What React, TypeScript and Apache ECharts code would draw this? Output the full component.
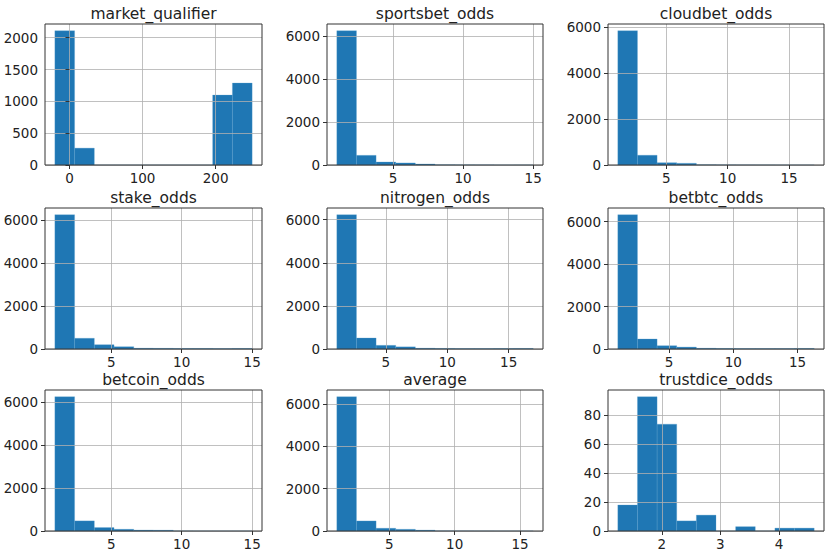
import React, { useEffect, useRef } from "react";
import * as echarts from "echarts";

// Panel titles (pandas DataFrame.hist, 10 bins each)
const titles = [
  "market_qualifier", "sportsbet_odds", "cloudbet_odds",
  "stake_odds", "nitrogen_odds", "betbtc_odds",
  "betcoin_odds", "average", "trustdice_odds",
];

// Data range (min, max) of each column -> histogram spans this range in 10 equal bins
const binMin = [-20, 1.0, 1.05, 1.0, 1.0, 1.0, 1.0, 1.0, 1.25];
const binMax = [250, 15.0, 17.05, 15.0, 17.0, 16.3, 15.0, 16.0, 4.6];

// Bin counts
const marketQualifier = [2110, 265, 0, 0, 0, 0, 0, 0, 1098, 1287];
const sportsbetOdds = [6250, 450, 140, 95, 45, 10, 6, 4, 2, 2];
const cloudbetOdds = [5850, 425, 100, 73, 10, 5, 3, 2, 1, 1];
const stakeOdds = [6260, 500, 200, 110, 35, 30, 25, 25, 20, 25];
const nitrogenOdds = [6230, 510, 170, 100, 35, 25, 20, 20, 20, 25];
const betbtcOdds = [6320, 470, 155, 90, 35, 25, 20, 20, 20, 25];
const betcoinOdds = [6240, 470, 160, 80, 40, 35, 2, 1, 1, 1];
const averageOdds = [6350, 475, 130, 80, 40, 5, 3, 2, 1, 1];
const trustdiceOdds = [18, 93, 74, 7, 11, 0, 3, 0, 2, 2];

const counts = [
  marketQualifier, sportsbetOdds, cloudbetOdds,
  stakeOdds, nitrogenOdds, betbtcOdds,
  betcoinOdds, averageOdds, trustdiceOdds,
];

// Tick labels
const xTicks = [
  [0, 100, 200], [5, 10, 15], [5, 10, 15],
  [5, 10, 15], [5, 10, 15], [5, 10, 15],
  [5, 10, 15], [5, 10, 15], [2, 3, 4],
];
const yTicks = [
  [0, 500, 1000, 1500, 2000], [0, 2000, 4000, 6000], [0, 2000, 4000, 6000],
  [0, 2000, 4000, 6000], [0, 2000, 4000, 6000], [0, 2000, 4000, 6000],
  [0, 2000, 4000, 6000], [0, 2000, 4000, 6000], [0, 20, 40, 60, 80],
];

// Layout
const colLeft = [45, 327, 608];
const colWidth = [217, 216, 216];
const rowTop = [24, 208, 390];
const rowHeight = 141;
const FONT = "DejaVu Sans";
const BAR = "#1f77b4";
const TEXT = "#222";
const SPINE = "#333";
const GRID = "#b0b0b0";

export default function App() {
  const ref = useRef<HTMLDivElement>(null);
  useEffect(() => {
    if (!ref.current) return;
    const chart = echarts.init(ref.current, undefined, { renderer: "svg" });
    const grids: any[] = [];
    const xAxes: any[] = [];
    const yAxes: any[] = [];
    const series: any[] = [];
    const graphics: any[] = [];
    const plain = (v: number) => String(v);
    for (let i = 0; i < 9; i++) {
      const r = Math.floor(i / 3);
      const c = i % 3;
      grids.push({
        left: colLeft[c], top: rowTop[r], width: colWidth[c], height: rowHeight,
        show: true, borderColor: SPINE, borderWidth: 1, backgroundColor: "transparent", z: 4,
      });
      const lo = binMin[i], hi = binMax[i];
      const pad = (hi - lo) * 0.05;
      const maxCount = Math.max(...counts[i]);
      xAxes.push({
        type: "value", gridIndex: i, min: lo - pad, max: hi + pad, z: 3,
        axisLine: { show: false },
        axisTick: { show: true, inside: false, length: 4, customValues: xTicks[i], lineStyle: { color: SPINE, width: 1 } },
        axisLabel: { show: true, customValues: xTicks[i], margin: 6, color: TEXT, fontSize: 13.5, fontFamily: FONT, formatter: plain },
        splitLine: { show: true, lineStyle: { color: GRID, width: 0.8 } },
      });
      yAxes.push({
        type: "value", gridIndex: i, min: 0, max: maxCount * 1.05, z: 3,
        axisLine: { show: false },
        axisTick: { show: true, inside: false, length: 4, customValues: yTicks[i], lineStyle: { color: SPINE, width: 1 } },
        axisLabel: { show: true, customValues: yTicks[i], margin: 7, color: TEXT, fontSize: 13.5, fontFamily: FONT, formatter: plain },
        splitLine: { show: true, lineStyle: { color: GRID, width: 0.8 } },
      });
      const w = (hi - lo) / counts[i].length;
      const data = counts[i].map((v, k) => [lo + k * w, lo + (k + 1) * w, v]);
      series.push({
        type: "custom", xAxisIndex: i, yAxisIndex: i, z: 2,
        encode: { x: [0, 1], y: 2 },
        data,
        renderItem: (params: any, api: any) => {
          const p0 = api.coord([api.value(0), api.value(2)]);
          const p1 = api.coord([api.value(1), 0]);
          return {
            type: "rect",
            shape: { x: p0[0], y: p0[1], width: p1[0] - p0[0], height: p1[1] - p0[1] },
            style: { fill: BAR, stroke: "#5a9fd0", lineWidth: 0.3 },
          };
        },
      });
      graphics.push({
        type: "text",
        x: colLeft[c] + colWidth[c] / 2,
        y: rowTop[r] - 10,
        style: {
          text: titles[i], fill: TEXT, font: `15.5px '${FONT}'`,
          textAlign: "center", textVerticalAlign: "middle",
        },
      });
    }
    chart.setOption({
      animation: false,
      grid: grids,
      xAxis: xAxes,
      yAxis: yAxes,
      series,
      graphic: graphics,
    });
    return () => chart.dispose();
  }, []);
  return (
    <div
      ref={ref}
      style={{ position: "fixed", left: 0, top: 0, width: 830, height: 557, background: "#fff" }}
    />
  );
}
